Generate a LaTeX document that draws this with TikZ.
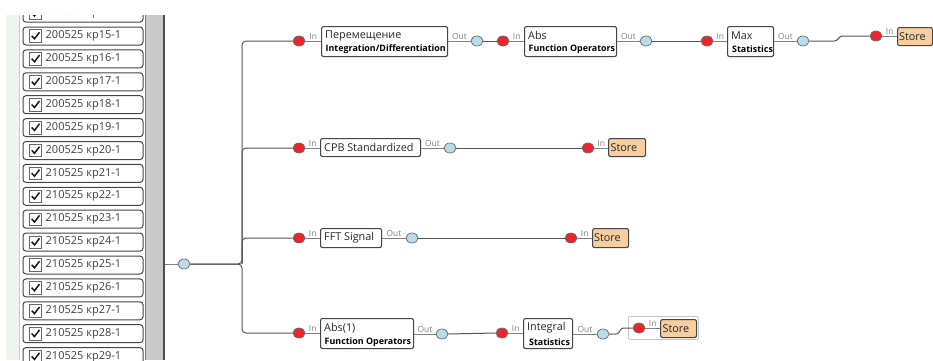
\documentclass[tikz,border=0pt]{standalone}
\usepackage{fontspec}
\setmainfont{Open Sans}
\usetikzlibrary{shapes.geometric}
\definecolor{redport}{HTML}{E8262B}
\definecolor{blueport}{HTML}{B8DCE8}
\definecolor{storefill}{HTML}{F5CFA0}
\definecolor{wirecol}{HTML}{555555}
\definecolor{edgecol}{HTML}{454545}
\definecolor{panelgreen}{HTML}{EEF4EE}
\definecolor{scrollgray}{HTML}{C9C9C9}
\begin{document}
\begin{tikzpicture}[x=1pt,y=-1pt,
  port/.style={ellipse, draw=gray!85!black, line width=0.7pt, minimum width=12pt, minimum height=10pt, inner sep=0pt},
  inport/.style={port, fill=redport},
  outport/.style={port, fill=blueport},
  module/.style={draw=edgecol, line width=1.1pt, rounded corners=2pt, fill=white, inner sep=0pt, anchor=north west},
  storebox/.style={module, fill=storefill},
  title/.style={font=\fontsize{10.8}{12}\selectfont, text=black!85, inner sep=0pt, anchor=west},
  sublabel/.style={font=\fontsize{8.9}{10}\selectfont\bfseries, text=black, inner sep=0pt, anchor=west},
  plabel/.style={font=\fontsize{8.4}{9}\selectfont, text=gray, inner sep=0pt, above=1.2pt},
  wire/.style={draw=wirecol, line width=1pt},
  stub/.style={draw=gray, line width=0.6pt},
  itembox/.style={draw=edgecol, line width=1pt, rounded corners=3pt, fill=white, minimum width=120pt, minimum height=18pt, inner sep=0pt},
  checkbox/.style={draw=gray!80!black, line width=0.7pt, fill=white, minimum width=12.5pt, minimum height=12.5pt, inner sep=0pt},
  itemtext/.style={font=\fontsize{11}{12}\selectfont, text=black!75, inner sep=0pt, anchor=west},
  checkmark/.style={draw=black!90, line width=1.5pt},
]
\useasboundingbox[fill=white] (0,0) rectangle (933,360);

% ---------- left panel ----------
\fill[panelgreen] (6,15) rectangle (19,360);
\draw[gray!40, line width=0.8pt] (19,15) -- (19,360);
\fill[scrollgray] (145,15) rectangle (164,360);
\draw[gray, line width=0.8pt] (145,15) -- (145,360);
\draw[black!70, line width=1.2pt] (164,15) -- (164,360);
\begin{scope}
  \clip (6,15) rectangle (145,360);
  \foreach \n in {14,...,29}{
    \pgfmathsetmacro{\yy}{36+(\n-15)*22.9}
    \node[itembox] (i\n) at (83,\yy) {};
    \node[checkbox] (c\n) at (35.5,\yy) {};
    \draw[checkmark] ([shift={(-3.8,-0.2)}]c\n.center) -- ([shift={(-1,2.8)}]c\n.center) -- ([shift={(4,-3.8)}]c\n.center);
    \ifnum\n<21
      \node[itemtext] (t\n) at (45.5,\yy) {200525 кр\n-1};
    \else
      \node[itemtext] (t\n) at (45.5,\yy) {210525 кр\n-1};
    \fi
  }
\end{scope}

% ---------- source port ----------
\coordinate (src) at (165,264);
\node[outport] (m0) at (184,264) {};
\draw[gray, line width=1pt] (src) -- (m0.west);

% ---------- row 1 ----------
\node[inport] (r1a) at (299,41) {};
\node[module, minimum width=126pt, minimum height=30pt] (b1) at (321,26) {};
\node[title] (b1t) at (325,35.5) {Перемещение};
\node[sublabel] (b1s) at (325.5,49.5) {Integration/Differentiation};
\node[outport] (o1a) at (477,41) {};
\node[inport] (r1b) at (503,41) {};
\node[module, minimum width=92pt, minimum height=30pt] (b2) at (524,26) {};
\node[title] (b2t) at (528,35.5) {Abs};
\node[sublabel] (b2s) at (528.5,49.5) {Function Operators};
\node[outport] (o1b) at (646,41) {};
\node[inport] (r1c) at (707,41) {};
\node[module, minimum width=46pt, minimum height=30pt] (b3) at (727,26) {};
\node[title] (b3t) at (731,35.5) {Max};
\node[sublabel] (b3s) at (732,49.5) {Statistics};
\node[outport] (o1c) at (803,41) {};
\node[inport] (r1d) at (876,36) {};
\node[storebox, minimum width=35pt, minimum height=18pt] (s1) at (897,27) {};
\node[title] (s1t) at (s1.west) [xshift=2pt] {Store};

% ---------- row 2 ----------
\node[inport] (r2a) at (299,148) {};
\node[module, minimum width=100pt, minimum height=18pt] (b4) at (320,138) {};
\node[title] (b4t) at (324,147) {CPB Standardized};
\node[outport] (o2a) at (450,148) {};
\node[inport] (r2b) at (588,148) {};
\node[storebox, minimum width=37pt, minimum height=18pt] (s2) at (608,138) {};
\node[title] (s2t) at (s2.west) [xshift=2.5pt] {Store};

% ---------- row 3 ----------
\node[inport] (r3a) at (299,238) {};
\node[module, minimum width=61pt, minimum height=19pt] (b5) at (320,228) {};
\node[title] (b5t) at (324,237.5) {FFT Signal};
\node[outport] (o3a) at (412,238) {};
\node[inport] (r3b) at (571,238) {};
\node[storebox, minimum width=36pt, minimum height=19pt] (s3) at (592,228) {};
\node[title] (s3t) at (s3.west) [xshift=2pt] {Store};

% ---------- row 4 ----------
\node[inport] (r4a) at (299,333) {};
\node[module, minimum width=93pt, minimum height=30pt] (b6) at (320,318) {};
\node[title] (b6t) at (324,328) {Abs(1)};
\node[sublabel] (b6s) at (324.5,342) {Function Operators};
\node[outport] (o4a) at (442,334) {};
\node[inport] (r4b) at (502,333) {};
\node[module, minimum width=49pt, minimum height=30pt] (b7) at (523,318) {};
\node[title] (b7t) at (527,328) {Integral};
\node[sublabel] (b7s) at (529,342) {Statistics};
\node[outport] (o4b) at (603,334) {};
\node[draw=gray!45, line width=0.8pt, rounded corners=2pt, minimum width=70pt, minimum height=23pt, inner sep=0pt, anchor=north west] (grp) at (628,316) {};
\node[inport] (r4c) at (639,328) {};
\node[storebox, minimum width=36pt, minimum height=18pt] (s4) at (660,319) {};
\node[title] (s4t) at (s4.west) [xshift=2.5pt] {Store};

% ---------- trunk wires ----------
\coordinate (joint) at (242,264);
\draw[wire, rounded corners=4pt] (m0.east) -- (joint) |- (r1a.west);
\draw[wire, rounded corners=4pt] (m0.east) -- (joint) |- (r4a.west);
\draw[wire, rounded corners=4pt] (joint) |- (r2a.west);
\draw[wire, rounded corners=4pt] (joint) |- (r3a.west);

% ---------- port stubs ----------
\draw[stub] (r1a.east) -- (r1a.east -| b1.west) node[plabel, midway] {In};
\draw[stub] (b1.east |- o1a.west) -- (o1a.west) node[plabel, midway] {Out};
\draw[stub] (r1b.east) -- (r1b.east -| b2.west) node[plabel, midway] {In};
\draw[stub] (b2.east |- o1b.west) -- (o1b.west) node[plabel, midway] {Out};
\draw[stub] (r1c.east) -- (r1c.east -| b3.west) node[plabel, midway] {In};
\draw[stub] (b3.east |- o1c.west) -- (o1c.west) node[plabel, midway] {Out};
\draw[stub] (r1d.east) -- (r1d.east -| s1.west) node[plabel, midway] {In};

\draw[stub] (r2a.east) -- (r2a.east -| b4.west) node[plabel, midway] {In};
\draw[stub] (b4.east |- o2a.west) -- (o2a.west) node[plabel, midway] {Out};
\draw[stub] (r2b.east) -- (r2b.east -| s2.west) node[plabel, midway] {In};

\draw[stub] (r3a.east) -- (r3a.east -| b5.west) node[plabel, midway] {In};
\draw[stub] (b5.east |- o3a.west) -- (o3a.west) node[plabel, midway] {Out};
\draw[stub] (r3b.east) -- (r3b.east -| s3.west) node[plabel, midway] {In};

\draw[stub] (r4a.east) -- (r4a.east -| b6.west) node[plabel, midway] {In};
\draw[stub] (b6.east |- o4a.west) -- (o4a.west) node[plabel, midway] {Out};
\draw[stub] (r4b.east) -- (r4b.east -| b7.west) node[plabel, midway] {In};
\draw[stub] (b7.east |- o4b.west) -- (o4b.west) node[plabel, midway] {Out};
\draw[stub] (r4c.east) -- (r4c.east -| s4.west) node[plabel, midway] {In};

% ---------- links ----------
\draw[wire] (o1a.east) -- (r1b.west);
\draw[wire] (o1b.east) -- (r1c.west);
\draw[wire] (o1c.east) -- ++(25,0) to[out=0,in=180] ++(8,-5) -- (r1d.west);
\draw[wire] (o2a.east) -- (r2b.west);
\draw[wire] (o3a.east) -- (r3b.west);
\draw[wire] (o4a.east) -- (r4b.west);
\draw[wire] (o4b.east) -- ++(7,0) to[out=0,in=180] ++(7,-6) -- (r4c.west);
\end{tikzpicture}
\end{document}
